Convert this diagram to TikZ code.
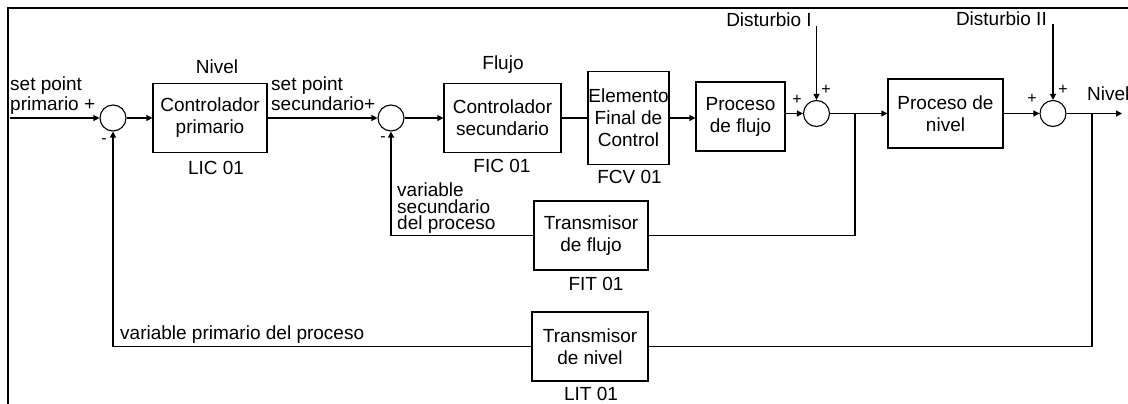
\documentclass[tikz,border=0pt]{standalone}
\usepackage{fontspec}
\setmainfont{Liberation Sans}
\usetikzlibrary{arrows.meta}
\begin{document}
\begin{tikzpicture}[x=1pt,y=-1pt,
  every node/.style={inner sep=0pt, font=\fontsize{19}{22}\selectfont},
  blk/.style={draw, line width=1.2pt, align=center},
  sumc/.style={draw, circle, minimum size=26pt, line width=1.1pt},
  wire/.style={line width=1.2pt},
  flow/.style={wire, -{Triangle[length=6pt,width=6pt]}},
  sgn/.style={font=\fontsize{16}{18}\selectfont},
  lbl/.style={align=left, font=\fontsize{19}{20}\selectfont},
]
\useasboundingbox (0,0) rectangle (1128,404);

% frame
\draw[line width=1.8pt] (8,404) -- (8,8) -- (1128,8);

% summing junctions
\node[sumc] (s1) at (113,118) {};
\node[sumc] (s2) at (391,118) {};
\node[sumc] (s3) at (816.5,113.5) {};
\node[sumc] (s4) at (1053,113.5) {};

% blocks
\node[blk, minimum width=114pt, minimum height=69pt] (cp)  at (210,118)   {Controlador\\primario};
\node[blk, minimum width=117pt, minimum height=69pt] (cs)  at (502.5,118) {Controlador\\secundario};
\node[blk, minimum width=81pt,  minimum height=93pt] (fce) at (628.5,118) {Elemento\\Final de\\Control};
\node[blk, minimum width=89pt,  minimum height=69pt] (pf)  at (740.5,116.5) {Proceso\\de flujo};
\node[blk, minimum width=115pt, minimum height=69pt] (pn)  at (945.5,113.5) {Proceso de\\nivel};
\node[blk, minimum width=114pt, minimum height=69pt] (fit) at (591,235.5) {Transmisor\\de flujo};
\node[blk, minimum width=116pt, minimum height=69pt] (lit) at (590,346.5) {Transmisor\\de nivel};

% free ends
\coordinate (in1) at (10,118);
\coordinate (out) at (1122,113.5);
\coordinate (d1) at (816.5,26);
\coordinate (d2) at (1053,24);
\coordinate (b1) at (855,113.5);
\coordinate (b2) at (1092,113.5);

% forward path
\draw[flow] (in1) -- (s1);
\draw[flow] (s1) -- (cp);
\draw[flow] (cp) -- (s2);
\draw[flow] (s2) -- (cs);
\draw[wire] (cs) -- (fce);
\draw[flow] (fce.east) -- (pf.west |- fce.east);
\draw[flow] (pf.east |- s3) -- (s3);
\draw[flow] (s3) -- (pn);
\draw[flow] (pn) -- (s4);
\draw[flow] (s4) -- (out);

% disturbances
\draw[flow] (d1) -- (s3.north);
\draw[flow] (d2) -- (s4.north);

% feedback paths
\draw[wire] (b1) -- (b1 |- fit.east) -- (fit.east);
\draw[flow] (fit.west) -- (s2 |- fit.west) -- (s2.south);
\draw[wire] (b2) -- (b2 |- lit.east) -- (lit.east);
\draw[flow] (lit.west) -- (s1 |- lit.west) -- (s1.south);

% labels
\node[lbl, anchor=north west] (spp) at (10,77) {set point\\primario +};
\node[lbl, anchor=north west] (sps) at (271,77) {set point\\secundario+};
\node[anchor=base] (nivA) at (217,74) {Nivel};
\node[anchor=base] (lic)  at (216,174) {LIC 01};
\node[anchor=base] (flu)  at (503,70) {Flujo};
\node[anchor=base] (fic)  at (502,172.5) {FIC 01};
\node[anchor=base] (fcv)  at (629.5,183) {FCV 01};
\node[anchor=base] (fitl) at (596,290) {FIT 01};
\node[anchor=base] (litl) at (591,400) {LIT 01};
\node[lbl, anchor=north west, font=\fontsize{19}{16.5}\selectfont] (vsp) at (397,183) {variable\\secundario\\del proceso};
\node[anchor=base west] (vpp) at (120,339) {variable primario del proceso};
\node[anchor=base east] (dI)  at (812,27) {Disturbio I};
\node[anchor=base east] (dII) at (1047,26) {Disturbio II};
\node[anchor=base west] (nivO) at (1087,101) {Nivel};

% signs at the junctions
\node[sgn] (m1) at (104,141) {-};
\node[sgn] (m2) at (383,139) {-};
\node[sgn] (p3a) at (797,100) {+};
\node[sgn] (p3b) at (826,90) {+};
\node[sgn] (p4a) at (1032,99) {+};
\node[sgn] (p4b) at (1063,90) {+};
\end{tikzpicture}
\end{document}
